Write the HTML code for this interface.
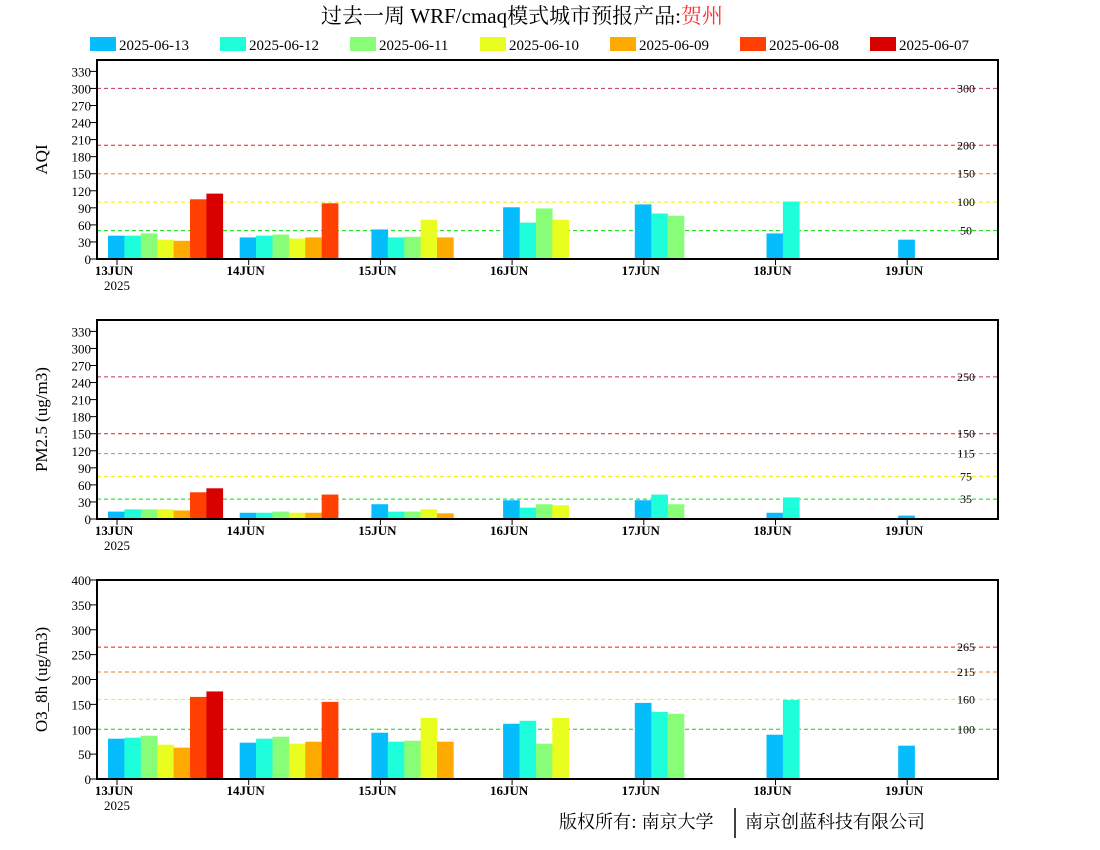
<!DOCTYPE html>
<html><head><meta charset="utf-8"><style>
body{margin:0;background:#fff;width:1100px;height:850px;overflow:hidden}
svg{display:block}
text{font-family:"Liberation Serif","Noto Serif CJK SC",serif}
</style></head><body>
<svg id="chart" width="1100" height="850" xmlns="http://www.w3.org/2000/svg">
<text x="522" y="23" text-anchor="middle" font-size="21" style="font-family:'Liberation Serif','Noto Serif CJK SC',serif">过去一周 WRF/cmaq模式城市预报产品:<tspan fill="#ff3030">贺州</tspan></text>
<g id="legend"></g>
<g id="panels"></g>
<text x="559" y="828" font-size="18" style="font-family:'Noto Serif CJK SC',serif">版权所有: 南京大学</text>
<line x1="735" y1="808" x2="735" y2="838" stroke="#000" stroke-width="1.5"/>
<text x="745" y="828" font-size="18" style="font-family:'Noto Serif CJK SC',serif">南京创蓝科技有限公司</text>
</svg>
<script>
const seriesNames = ["2025-06-13","2025-06-12","2025-06-11","2025-06-10","2025-06-09","2025-06-08","2025-06-07"];
const days = ["13JUN","14JUN","15JUN","16JUN","17JUN","18JUN","19JUN"];
// values per day: index = series (blue..red); null = missing
const aqiValues = [
 [41,41,45,34,32,105,115],
 [38,41,43,36,38,98],
 [52,38,39,69,38],
 [91,64,89,69],
 [96,80,76],
 [45,101],
 [34]
];
const pmValues = [
 [13,17,17,17,15,47,54],
 [11,11,13,11,11,43],
 [26,13,13,17,10],
 [33,20,26,24],
 [33,43,26],
 [11,38],
 [6]
];
const o3Values = [
 [81,83,87,69,63,165,176],
 [73,81,85,71,75,155],
 [93,75,77,123,75],
 [111,117,71,123],
 [153,135,131],
 [89,159],
 [67]
];
const aqiTicks = [0,30,60,90,120,150,180,210,240,270,300,330];
const pmTicks = [0,30,60,90,120,150,180,210,240,270,300,330];
const o3Ticks = [0,50,100,150,200,250,300,350,400];
const aqiLevels = [50,100,150,200,300];
const pmLevels = [35,75,115,150,250];
const o3Levels = [100,160,215,265];

const colors = ["#05bcfd","#1ffedb","#88fe78","#e9fe1e","#ffaa00","#ff4000","#d90000"];
const levelColors = ["#00dd00","#eeee00","#ee7f20","#ff1010","#c0306a"];
const NS = "http://www.w3.org/2000/svg";
const svg = document.getElementById("chart");
function mk(tag, attrs, parent){const e=document.createElementNS(NS,tag);for(const k in attrs)e.setAttribute(k,attrs[k]);(parent||svg).appendChild(e);return e;}

// legend
const lg = document.getElementById("legend");
seriesNames.forEach((n,i)=>{
  const x = 90 + i*130;
  const r = mk("rect",{x:x,y:37,width:26,height:14,fill:colors[i]},lg);
  
  
  const t = mk("text",{x:x+29,y:50,"font-size":15,"font-family":"Liberation Mono, monospace"},lg);
  
  
  t.textContent = n;
});

const L=97, R=998, dayX0=117, daySp=131.7, barW=16.4;
function xDay(i){return dayX0 + i*daySp;}

function panel(name, top, bottom, maxV, ticks, levels, lvlColors, values, ytitle){
  const g = mk("g",{});
  
  
  const yS = v => bottom - v/maxV*(bottom-top);
  // levels
  levels.forEach((lv,i)=>{
    const y=yS(lv);
    const ln = mk("line",{x1:L,x2:R,y1:y,y2:y,stroke:lvlColors[i],"stroke-width":1,"stroke-dasharray":"4,3"},g);
    
    
    const t = mk("text",{x:966,y:y+4,"text-anchor":"middle","font-size":12},g);
    
    
    t.textContent = lv;
  });
  // bars
  values.forEach((arr,d)=>{
    arr.forEach((v,s)=>{
      if(v==null) return;
      const x = xDay(d) - 9 + s*barW;
      const b = mk("rect",{x:x,y:yS(v),width:barW+0.3,height:bottom-yS(v),fill:colors[s]},g);
      
      
    });
  });
  // frame
  const fr = mk("rect",{x:L,y:top,width:R-L,height:bottom-top,fill:"none",stroke:"#000","stroke-width":2},g);
  
  
  // y ticks
  ticks.forEach(tv=>{
    const y=yS(tv);
    mk("line",{x1:L-7,x2:L,y1:y,y2:y,stroke:"#000","stroke-width":1},g);
    const t = mk("text",{x:L-6,y:y+5,"text-anchor":"end","font-size":13},g);
    
    
    t.textContent = tv;
  });
  // x ticks
  days.forEach((dn,i)=>{
    const x=xDay(i);
    mk("line",{x1:x,x2:x,y1:bottom,y2:bottom+6,stroke:"#000","stroke-width":1},g);
    const t = mk("text",{x:x-3,y:bottom+16,"text-anchor":"middle","font-size":13,"font-weight":"bold"},g);
    
    
    t.textContent = dn;
  });
  const yr = mk("text",{x:xDay(0)-0,y:bottom+31,"text-anchor":"middle","font-size":13},g);
  
  
  yr.textContent = "2025";
  const cy=(top+bottom)/2;
  const yt = mk("text",{x:0,y:0,"text-anchor":"middle","font-size":17,transform:"translate(47,"+cy+") rotate(-90)"},g);
  
  
  yt.textContent = ytitle;
}
panel("aqi",60,259,350,aqiTicks,aqiLevels,levelColors,aqiValues,"AQI");
panel("pm25",320,519,350,pmTicks,pmLevels,levelColors,pmValues,"PM2.5 (ug/m3)");
panel("o3",580,779,400,o3Ticks,o3Levels,levelColors,o3Values,"O3_8h (ug/m3)");
</script>
</body></html>
